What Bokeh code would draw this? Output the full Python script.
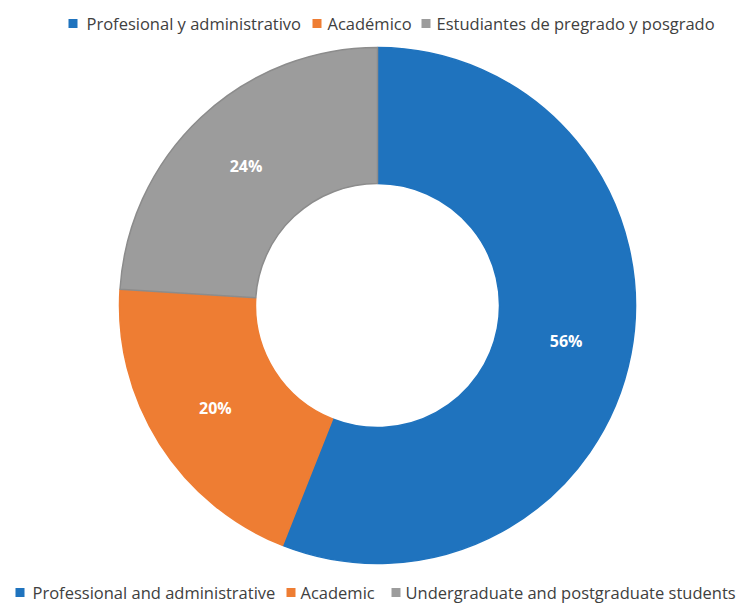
import math
from bokeh.plotting import figure
from bokeh.models import Range1d, ColumnDataSource
from bokeh.core.properties import value
from bokeh.embed import file_html
from bokeh.resources import INLINE

# ---- data ----
labels_es = ["Profesional y administrativo", "Académico", "Estudiantes de pregrado y posgrado"]
labels_en = ["Professional and administrative", "Academic", "Undergraduate and postgraduate students"]
shares = [56, 20, 24]
pct_labels = ["56%", "20%", "24%"]
colors = ["#1F73BE", "#EE7D33", "#9C9C9C"]
edge_colors = ["#1F73BE", "#EE7D33", "#8C8C8C"]

# ---- layout (page pixel coordinates, y measured upward) ----
W, H = 745, 603
PAGE_H = 603
def py(y):
    return PAGE_H - y

cx, cy = 377, py(305)
r_out, r_in = 258, 122

p = figure(width=W, height=H, output_backend="svg", toolbar_location=None,
           x_range=Range1d(0, W), y_range=Range1d(PAGE_H - H, PAGE_H),
           min_border=0, outline_line_color=None)
p.axis.visible = False
p.grid.visible = False

total = sum(shares)
starts, ends, mids = [], [], []
a = math.pi / 2
for v in shares:
    span = 2 * math.pi * v / total
    starts.append(a)
    ends.append(a - span)
    mids.append(a - span / 2)
    a -= span

src = ColumnDataSource(dict(start=starts, end=ends, color=colors, edge=edge_colors))
p.annular_wedge(x=cx, y=cy, inner_radius=r_in, outer_radius=r_out,
                start_angle="start", end_angle="end", direction="clock",
                fill_color="color", line_color="edge", line_width=1.5, source=src)

r_lab = (r_in + r_out) / 2 + 2
lab_src = ColumnDataSource(dict(
    x=[cx + r_lab * math.cos(m) for m in mids],
    y=[cy + r_lab * math.sin(m) for m in mids],
    t=pct_labels))
p.text(x="x", y="y", text="t", source=lab_src, text_color="white",
       text_font=value("Open Sans"), text_font_style="bold", text_font_size="16px",
       text_align="center", text_baseline="middle")

# ---- legends ----
def legend(labels, sq_x, txt_x, y_page):
    y = py(y_page)
    p.rect(x=[s + 4.5 for s in sq_x], y=[y] * len(sq_x), width=9, height=9,
           fill_color=colors, line_color=None)
    p.text(x=txt_x, y=[y] * len(txt_x), text=labels, text_color="#404040",
           text_font=value("Open Sans"), text_font_size="16.5px",
           text_align="left", text_baseline="middle")

legend(labels_es, [68, 312, 421], [86, 327, 436], 23)
legend(labels_en, [15, 286, 391], [32, 300, 405], 592)

open("out.html", "w").write(file_html(p, INLINE))
